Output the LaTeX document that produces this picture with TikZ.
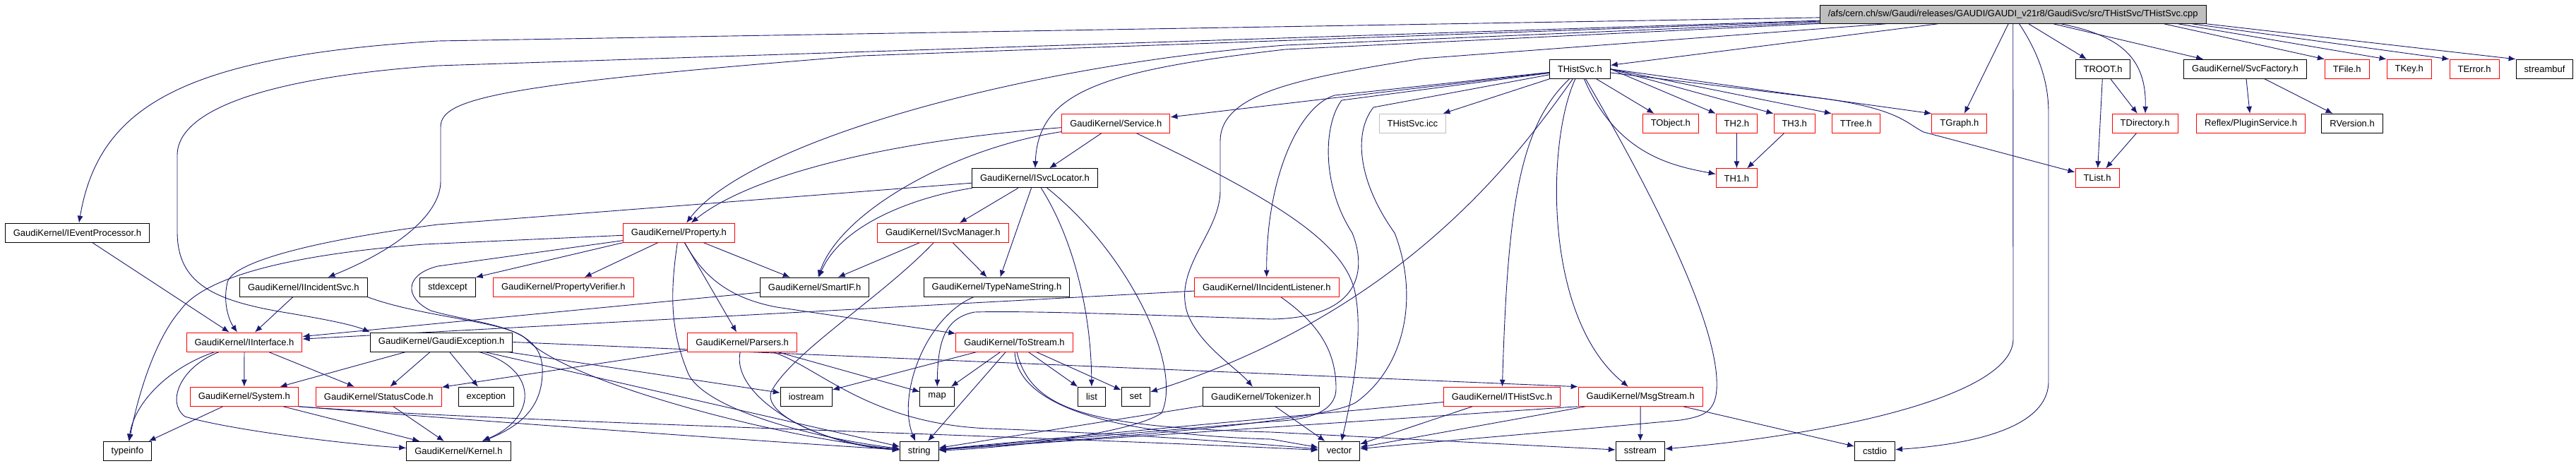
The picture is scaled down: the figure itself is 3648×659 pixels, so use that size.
\documentclass[tikz,border=0pt]{standalone}
\usepackage{fontspec}
\setmainfont{Liberation Sans}
\usepackage{tikz}
\usetikzlibrary{arrows.meta,backgrounds}
\usepackage{xcolor}
\definecolor{depblue}{HTML}{191970}
\definecolor{grey75}{HTML}{BFBFBF}

\begin{document}
\begin{tikzpicture}[
  x=1pt, y=-1pt,
  font=\fontsize{13pt}{15pt}\selectfont,
  file/.style = {draw=black, line width=1pt, fill=white, inner xsep=11.5pt,
                 inner ysep=0pt, minimum height=27pt},
  miss/.style = {file, draw=red},
  icc/.style  = {file, draw=grey75},
  main/.style = {file, fill=grey75, minimum height=26pt},
  dep/.style  = {-{Latex[length=10pt,width=8pt]}, line width=0.9pt, draw=depblue},
]
\useasboundingbox (0,0) rectangle (3648,659);

% ======================= the file itself ===============================
\node[main] (root) at (2850.7,20.3)
  {/afs/cern.ch/sw/Gaudi/releases/GAUDI/GAUDI\_v21r8/GaudiSvc/src/THistSvc/THistSvc.cpp};

% ======================= row 1 =========================================
\node[file] (thsvch) at (2237.3,97.8) {THistSvc.h};
\node[file] (troot)  at (2978.0,97.8) {TROOT.h};
\node[file] (svcfac) at (3179.5,97.8) {GaudiKernel/SvcFactory.h};
\node[miss] (tfile)  at (3323.7,97.8) {TFile.h};
\node[miss] (tkey)   at (3411.7,97.8) {TKey.h};
\node[miss] (terror) at (3504.0,97.8) {TError.h};
\node[file] (sbuf)   at (3603.5,97.8) {streambuf};

% ======================= row 2 =========================================
\node[miss] (service)  at (1580.4,174.8) {GaudiKernel/Service.h};
\node[icc]  (thsvcicc) at (2000.3,174.8) {THistSvc.icc};
\node[miss] (tobject)  at (2365.8,174.8) {TObject.h};
\node[miss] (th2)      at (2459.4,174.8) {TH2.h};
\node[miss] (th3)      at (2541.2,174.8) {TH3.h};
\node[miss] (ttree)    at (2628.4,174.8) {TTree.h};
\node[miss] (tgraph)   at (2774.9,174.8) {TGraph.h};
\node[miss] (tdir)     at (3037.6,174.8) {TDirectory.h};
\node[miss] (plugin)   at (3187.6,174.8) {Reflex/PluginService.h};
\node[file] (rversion) at (3331.1,174.8) {RVersion.h};

% ======================= row 3 =========================================
\node[file] (isvcloc) at (1465.4,252.3) {GaudiKernel/ISvcLocator.h};
\node[miss] (th1)     at (2459.4,252.3) {TH1.h};
\node[miss] (tlist)   at (2970.0,252.3) {TList.h};

% ======================= row 4 =========================================
\node[file] (ievtproc) at (109.5,329.7)  {GaudiKernel/IEventProcessor.h};
\node[miss] (property) at (961.4,329.7)  {GaudiKernel/Property.h};
\node[miss] (isvcmgr)  at (1335.4,329.7) {GaudiKernel/ISvcManager.h};

% ======================= row 5 =========================================
\node[file] (iincsvc) at (429.8,406.7)  {GaudiKernel/IIncidentSvc.h};
\node[file] (stdexc)  at (633.9,406.7)  {stdexcept};
\node[miss] (propver) at (797.9,406.7)  {GaudiKernel/PropertyVerifier.h};
\node[file] (smartif) at (1153.7,406.7) {GaudiKernel/SmartIF.h};
\node[file] (tnstr)   at (1411.5,406.7) {GaudiKernel/TypeNameString.h};
\node[miss] (iinclis) at (1793.8,406.7) {GaudiKernel/IIncidentListener.h};

% ======================= row 6 =========================================
\node[miss] (iiface)   at (346.0,484.5)  {GaudiKernel/IInterface.h};
\node[file] (gexc)     at (625.2,484.5)  {GaudiKernel/GaudiException.h};
\node[miss] (parsers)  at (1051.2,484.5) {GaudiKernel/Parsers.h};
\node[miss] (tostream) at (1436.5,484.5) {GaudiKernel/ToStream.h};

% ======================= row 7 =========================================
\node[miss] (system) at (345.8,561.7)  {GaudiKernel/System.h};
\node[miss] (stcode) at (536.3,561.7)  {GaudiKernel/StatusCode.h};
\node[file] (excep)  at (688.4,561.7)  {exception};
\node[file] (iostr)  at (1141.7,561.7) {iostream};
\node[file] (map)    at (1327.1,561.7) {map};
\node[file] (list)   at (1546.0,561.7) {list};
\node[file] (set)    at (1608.3,561.7) {set};
\node[file] (tokzr)  at (1786.0,561.7) {GaudiKernel/Tokenizer.h};
\node[miss] (ithsvc) at (2127.0,561.7) {GaudiKernel/ITHistSvc.h};
\node[miss] (msgstr) at (2323.2,561.7) {GaudiKernel/MsgStream.h};

% ======================= row 8 =========================================
\node[file] (typeinfo) at (180.5,638.8)  {typeinfo};
\node[file] (kernel)   at (649.4,638.8)  {GaudiKernel/Kernel.h};
\node[file] (string)   at (1301.8,638.8) {string};
\node[file] (vector)   at (1896.5,638.8) {vector};
\node[file] (sstream)  at (2322.9,638.8) {sstream};
\node[file] (cstdio)   at (2655.0,638.8) {cstdio};

% ======================= include edges =================================
\begin{scope}[on background layer]
  \foreach \a/\b in {root/thsvch, root/tgraph, root/troot, root/svcfac,
                     thsvch/service, thsvch/thsvcicc, thsvch/tobject,
                     troot/tlist, troot/tdir, tdir/tlist, svcfac/plugin, svcfac/rversion,
                     th2/th1, th3/th1, service/isvcloc, isvcloc/isvcmgr, isvcloc/tnstr,
                     isvcmgr/smartif, isvcmgr/tnstr, property/propver, property/parsers,
                     property/smartif, ievtproc/iiface, iincsvc/iiface, smartif/iiface,
                     iinclis/iiface, iiface/system, iiface/stcode, gexc/system, gexc/stcode,
                     gexc/excep, gexc/iostr, gexc/string, system/typeinfo, system/kernel,
                     stcode/kernel, parsers/stcode, parsers/map, tostream/iostr,
                     tostream/map, tostream/string, tostream/list, tostream/set,
                     tokzr/string, tokzr/vector, ithsvc/string, ithsvc/vector,
                     msgstr/vector, msgstr/sstream, msgstr/cstdio} {
    \draw[dep] (\a) -- (\b);
  }
  \draw[dep] ([xshift=-60pt]root.south east) -- (tfile.north west);
  \draw[dep] ([xshift=-40pt]root.south east) -- (tkey.north west);
  \draw[dep] ([xshift=-20pt]root.south east) -- (terror.north west);
  \draw[dep] (root.south east) -- (sbuf.north west);
  \draw[dep] (thsvch.east) -- (th2.north west);
  \draw[dep] (thsvch.east) -- (th3.north west);
  \draw[dep] (thsvch.east) -- (ttree.north west);
  \draw[dep] (thsvch.east) -- (tgraph.north west);
  \draw[dep] (property.south west) -- (stdexc.north east);
  \draw[dep] (gexc.east) -- (msgstr.north west);
  \draw[dep] (msgstr.south west) -- (string);

  % long edges out of the .cpp file
  \draw[dep] (root) -- (620,58) .. controls (260,80) and (140,150) .. (ievtproc);
  \draw[dep] (root) -- (620,93) .. controls (400,108) and (251,150) .. (251,220)
             -- (251,330) .. controls (252,400) and (300,425) .. (400,442)
             .. controls (460,452) and (500,460) .. (gexc.north west);
  \draw[dep] (root) -- (1220,79) .. controls (700,120) and (624,140) .. (624,180)
             -- (624,257) .. controls (624,300) and (570,350) .. (iincsvc);
  \draw[dep] (root) -- (1820,64) .. controls (1450,92) and (1060,200) .. (property);
  \draw[dep] (root) -- (1820,70) .. controls (1560,100) and (1470,130) .. (isvcloc);
  \draw[dep] (root) -- (2013,83) .. controls (1847,110) and (1728,130) .. (1728,200)
             -- (1728,270) .. controls (1728,330) and (1660,380) .. (1682,445)
             .. controls (1700,490) and (1750,520) .. (tokzr);
  \draw[dep] (root.south) -- (2851,480) .. controls (2851,560) and (2600,615) .. (sstream);
  \draw[dep] (root) .. controls (2890,80) and (2901,120) .. (2901,160) -- (2901,540)
             .. controls (2901,610) and (2780,630) .. (cstdio);
  \draw[dep] (root) .. controls (3000,50) and (3040,80) .. (tdir);

  % THistSvc.h
  \draw[dep] (thsvch) .. controls (2290,220) and (2370,235) .. (th1);
  \draw[dep] (thsvch) -- (2586,140) .. controls (2690,155) and (2700,175) .. (2724,187)
             -- (tlist);
  \draw[dep] (thsvch) -- (1890,135) .. controls (1840,150) and (1793,250) .. (iinclis);
  \draw[dep] (thsvch) -- (1900,142) .. controls (1875,175) and (1870,260) .. (1915,330)
             .. controls (1935,380) and (1930,450) .. (1800,452)
             .. controls (1600,445) and (1450,440) .. (1380,442)
             .. controls (1340,450) and (1328,480) .. (map);
  \draw[dep] (thsvch) -- (1945,152) .. controls (1915,190) and (1925,260) .. (1975,330)
             .. controls (2010,420) and (1990,520) .. (1920,570)
             .. controls (1870,600) and (1500,625) .. (string);
  \draw[dep] (thsvch) .. controls (2150,220) and (1990,440) .. (set);
  \draw[dep] (thsvch) .. controls (2150,180) and (2135,300) .. (ithsvc);
  \draw[dep] (thsvch) .. controls (2190,200) and (2185,450) .. (msgstr);
  \draw[dep] (thsvch) .. controls (2390,360) and (2440,500) .. (2430,560)
             .. controls (2425,585) and (2410,590) .. (2380,595)
             .. controls (2200,612) and (2000,628) .. (vector);

  % Service.h, ISvcLocator.h, ISvcManager.h
  \draw[dep] (service) .. controls (1250,200) and (1060,250) .. (property);
  \draw[dep] (service) .. controls (1350,210) and (1190,300) .. (smartif);
  \draw[dep] (service) .. controls (1800,280) and (1900,340) .. (1918,410)
             .. controls (1932,470) and (1915,560) .. (vector);
  \draw[dep] (isvcloc) .. controls (1515,330) and (1545,430) .. (list);
  \draw[dep] (isvcloc) .. controls (1600,360) and (1675,520) .. (1645,585)
             .. controls (1600,615) and (1420,635) .. (string);
  \draw[dep] (isvcloc) .. controls (1290,280) and (1190,320) .. (smartif);
  \draw[dep] (isvcloc) -- (620,318) .. controls (450,340) and (330,370) .. (322,400)
             .. controls (315,430) and (325,455) .. (iiface);
  \draw[dep] (isvcmgr) .. controls (1250,420) and (1120,500) .. (1092,555)
             .. controls (1080,590) and (1180,630) .. (string);

  % Property.h
  \draw[dep] (property) -- (600,346) .. controls (420,360) and (290,390) .. (255,440)
             .. controls (220,480) and (195,560) .. (typeinfo);
  \draw[dep] (property) -- (620,377) .. controls (575,388) and (570,420) .. (610,440)
             .. controls (680,460) and (765,460) .. (768,520)
             .. controls (770,570) and (745,600) .. (kernel);
  \draw[dep] (property) .. controls (948,420) and (950,470) .. (975,530)
             .. controls (1000,580) and (1150,620) .. (string);
  \draw[dep] (property) .. controls (990,380) and (1020,420) .. (1100,435) -- (tostream);

  % interfaces and helpers
  \draw[dep] (iincsvc.south east) .. controls (600,450) and (720,455) .. (745,480)
             .. controls (800,540) and (1100,620) .. (string);
  \draw[dep] (iiface) .. controls (240,520) and (190,570) .. (typeinfo);
  \draw[dep] (iiface) .. controls (255,520) and (235,570) .. (262,590)
             .. controls (330,610) and (500,630) .. (kernel);
  \draw[dep] (gexc) .. controls (760,520) and (765,590) .. (kernel);
  \draw[dep] (system.south east) .. controls (600,590) and (1000,620) .. (string);
  \draw[dep] (system.south east) .. controls (700,597) and (1400,615) .. (vector);
  \draw[dep] (parsers) .. controls (1035,560) and (1150,630) .. (string);
  \draw[dep] (parsers) .. controls (1160,520) and (1230,600) .. (1400,607)
             .. controls (1600,614) and (1800,630) .. (vector);
  \draw[dep] (tostream) .. controls (1440,570) and (1560,615) .. (1800,622) -- (vector);
  \draw[dep] (tostream) .. controls (1460,580) and (1540,605) .. (1800,612) -- (sstream);
  \draw[dep] (tnstr) .. controls (1310,450) and (1270,560) .. (string);
  \draw[dep] (iinclis) .. controls (1870,460) and (1892,500) .. (1892,550)
             .. controls (1892,585) and (1850,595) .. (1800,597) -- (string);
\end{scope}

\end{tikzpicture}
\end{document}
